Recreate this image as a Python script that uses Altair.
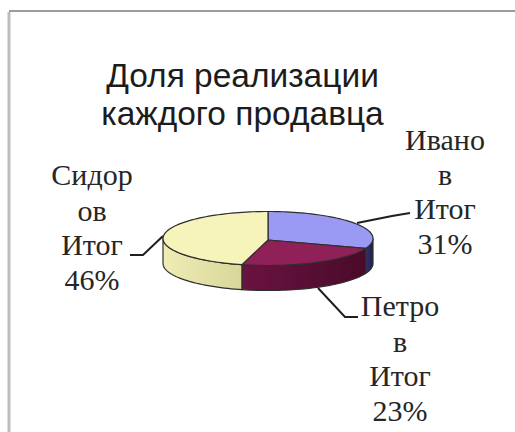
import math
import altair as alt
import pandas as pd

# Chart content
title_lines = ["Доля реализации", "каждого продавца"]
sellers = ["Иванов Итог", "Петров Итог", "Сидоров Итог"]
shares = [31, 23, 46]
top_colors = ["#9a9af5", "#8f2058", "#f6f3bb"]
wall_stops = [
    ("#34346e", "#1e1e4a"),
    ("#6a1340", "#4a0a2a"),
    ("#efedb4", "#d8d69a"),
]
label_lines = [
    ["Ивано", "в", "Итог", "31%"],
    ["Петро", "в", "Итог", "23%"],
    ["Сидор", "ов", "Итог", "46%"],
]
label_x = [445, 400, 92]
label_y = [[141, 176, 210, 245], [307, 343, 377, 412], [176, 212, 246, 281]]
leader_x = [[357, 392, 410], [318, 345, 358], [163, 143, 130]]
leader_y = [[223, 216, 213], [288, 317, 317], [236, 255, 255]]

W, H = 515, 432
CX, CY, RX, RY, DEPTH = 268, 238.5, 105, 27, 25

x_scale = alt.Scale(domain=[0, W], range=[0, W], nice=False, zero=False)
y_scale = alt.Scale(domain=[0, H], range=[0, H], nice=False, zero=False)


def rim(angle, drop=0.0):
    r = math.radians(angle)
    return CX + RX * math.sin(r), CY - RY * math.cos(r) + drop


def arc(a0, a1, drop=0.0):
    n = max(2, int(abs(a1 - a0) / 2))
    return [rim(a0 + (a1 - a0) * i / n, drop) for i in range(n + 1)]


def closed_shape(points, **mark_args):
    frame = pd.DataFrame(points, columns=["x", "y"])
    frame["i"] = range(len(frame))
    return alt.Chart(frame).mark_line(**mark_args).encode(
        x=alt.X("x:Q", scale=x_scale, axis=None),
        y=alt.Y("y:Q", scale=y_scale, axis=None),
        order="i:Q",
    )


def polyline(xs, ys, color, width):
    frame = pd.DataFrame({"x": xs, "y": ys, "i": range(len(xs))})
    return alt.Chart(frame).mark_line(color=color, strokeWidth=width).encode(
        x=alt.X("x:Q", scale=x_scale, axis=None),
        y=alt.Y("y:Q", scale=y_scale, axis=None),
        order="i:Q",
    )


# Slice limits, clockwise from twelve o'clock
limits = [0.0]
for s in shares:
    limits.append(limits[-1] + 360 * s / sum(shares))

layers = [
    polyline([9, 9], [12, H], "#bdbdbd", 3),
    polyline([9, W], [11, 11], "#9c9c9c", 2),
]

EDGE = "#2e2e2e"

# Side walls of the visible front half
for k in range(3):
    a0 = max(limits[k], 90)
    a1 = min(limits[k + 1], 270)
    if a1 <= a0:
        continue
    pts = arc(a0, a1) + arc(a1, a0, DEPTH)
    pts.append(pts[0])
    c0, c1 = wall_stops[k]
    layers.append(closed_shape(
        pts,
        fill=alt.Gradient(
            gradient="linear", x1=0, x2=1, y1=0, y2=0,
            stops=[alt.GradientStop(color=c0, offset=0), alt.GradientStop(color=c1, offset=1)],
        ),
        stroke=EDGE,
        strokeWidth=1.2,
    ))

# Top face wedges
for k in range(3):
    pts = [(CX, CY + 1.5)] + arc(limits[k], limits[k + 1]) + [(CX, CY + 1.5)]
    layers.append(closed_shape(pts, fill=top_colors[k], stroke=EDGE, strokeWidth=1.2))

for k in range(3):
    layers.append(polyline(leader_x[k], leader_y[k], "#1f1f1f", 2))

# Data labels, one row per wrapped line
rows = []
for k, lines in enumerate(label_lines):
    for line, y in zip(lines, label_y[k]):
        rows.append({"text": line, "x": label_x[k], "y": y})
layers.append(
    alt.Chart(pd.DataFrame(rows)).mark_text(
        font="Liberation Serif", fontSize=30, color="#262626", align="center", baseline="middle"
    ).encode(
        x=alt.X("x:Q", scale=x_scale, axis=None),
        y=alt.Y("y:Q", scale=y_scale, axis=None),
        text="text:N",
    )
)

title_rows = pd.DataFrame({"text": title_lines, "x": [242.5, 242.5], "y": [77, 115]})
layers.append(
    alt.Chart(title_rows).mark_text(
        font="Liberation Sans", fontSize=33.5, color="#1c1c1c", align="center", baseline="middle"
    ).encode(
        x=alt.X("x:Q", scale=x_scale, axis=None),
        y=alt.Y("y:Q", scale=y_scale, axis=None),
        text="text:N",
    )
)

chart = alt.layer(*layers).properties(
    width=W,
    height=H,
    padding=0,
    autosize=alt.AutoSizeParams(type="none"),
    background="#ffffff",
).configure_view(stroke=None)

chart.save("out.html", embed_options={"renderer": "svg", "actions": False})
